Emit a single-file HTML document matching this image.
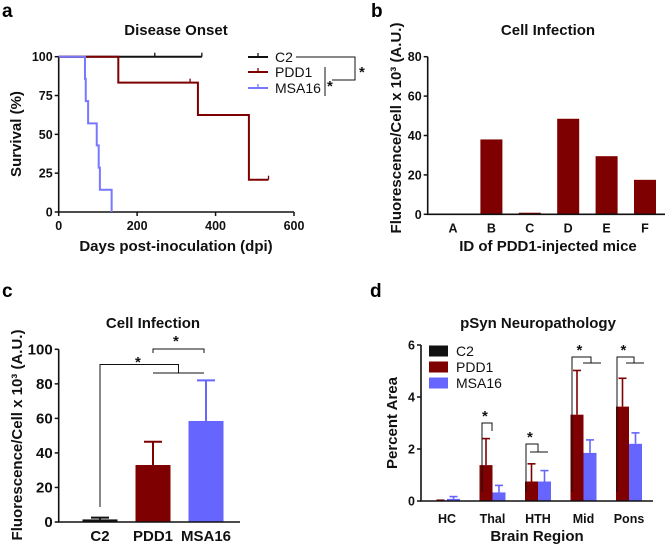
<!DOCTYPE html>
<html><head><meta charset="utf-8">
<style>
html,body{margin:0;padding:0;background:#fff;}
svg{display:block;font-family:"Liberation Sans",Arial,sans-serif;}
.t{font-weight:bold;font-size:12.5px;fill:#111;}
.ti{font-weight:bold;font-size:15px;fill:#111;}
.lab{font-weight:bold;font-size:19px;fill:#000;}
.ax{stroke:#111;stroke-width:1.6;fill:none;}
</style></head>
<body>
<svg id="fig" width="669" height="545" viewBox="0 0 669 545" xmlns="http://www.w3.org/2000/svg">
<g id="pa"></g>
<g id="pb"></g>
<g id="pc"></g>
<g id="pd"></g>
</svg>
<script>
// Panel a data
const aTicksX=[0,200,400,600];
const aTicksY=[0,25,50,75,100];
const c2Times=[0,365];const c2Surv=[100,100];const c2Cens=[245,365];
const pddTimes=[0,152,355,485,535];const pddSurv=[100,83.3,62.5,20.8,20.8];const pddCens=[335,535];
const msaTimes=[0,67,69,75,97,102,105,135];const msaSurv=[100,85.7,71.4,57.1,42.9,28.6,14.3,0];
// Panel b data
const bCats=["A","B","C","D","E","F"];
const bVals=[0.3,38,0.8,48.5,29.5,17.5];
const bTicks=[0,20,40,60,80];
// Panel c data
const cCats=["C2","PDD1","MSA16"];
const cVals=[1.5,33,58.5];
const cErr=[2.5,46.5,82];
const cTicks=[0,20,40,60,80,100];
// Panel d data
const dCats=["HC","Thal","HTH","Mid","Pons"];
const dC2=[0,0,0,0,0];
const dPDD=[0.02,1.38,0.75,3.32,3.63];
const dPDDerr=[0.03,2.4,1.43,5.02,4.72];
const dMSA=[0.08,0.33,0.75,1.85,2.2];
const dMSAerr=[0.17,0.6,1.17,2.35,2.62];
const dTicks=[0,2,4,6];

const NS="http://www.w3.org/2000/svg";
function mk(p,tag,at,txt){const e=document.createElementNS(NS,tag);for(const k in at)e.setAttribute(k,at[k]);if(txt!=null)e.textContent=txt;p.appendChild(e);return e;}
const RED="#7f0000",BLUE="#6666ff";

// ---------- Panel A ----------
(function(){
const g=document.getElementById('pa');
const x=v=>58.7+v*(294-58.7)/600, y=v=>212-v*(212-56.7)/100;
let e=mk(g,'text',{x:2,y:17,class:'lab'},'a');


e=mk(g,'text',{x:176,y:35,class:'ti','text-anchor':'middle'},'Disease Onset');


mk(g,'path',{d:`M${x(0)} ${y(100)}V${y(0)}H${x(600)}`,class:'ax'});
aTicksX.forEach(v=>{mk(g,'line',{x1:x(v),x2:x(v),y1:y(0),y2:y(0)+4,stroke:'#111','stroke-width':1.5});
 const t=mk(g,'text',{x:x(v),y:y(0)+18,class:'t','text-anchor':'middle'},v);
 
 });
aTicksY.forEach(v=>{mk(g,'line',{x1:x(0)-4,x2:x(0),y1:y(v),y2:y(v),stroke:'#111','stroke-width':1.5});
 const t=mk(g,'text',{x:x(0)-6,y:y(v)+4.5,class:'t','text-anchor':'end'},v);
 
 });
e=mk(g,'text',{x:176,y:251,class:'ti','text-anchor':'middle','font-size':'14.5'},'Days post-inoculation (dpi)');


e=mk(g,'text',{x:0,y:0,class:'ti',transform:`translate(21,134) rotate(-90)`,'text-anchor':'middle','font-size':'14.5'},'Survival (%)');


function step(T,S,col,cens,name){
 let d=`M${x(T[0])} ${y(S[0])}`;
 for(let i=1;i<T.length;i++){d+=`H${x(T[i])}V${y(S[i])}`;}
 const p=mk(g,'path',{d,stroke:col,'stroke-width':2,fill:'none'});
 
 
 cens.forEach(c=>{let s=S[0];for(let i=0;i<T.length;i++)if(T[i]<=c)s=S[i];
  mk(g,'line',{x1:x(c),x2:x(c),y1:y(s)-4,y2:y(s),stroke:col,'stroke-width':1.3});});
}
step(c2Times,c2Surv,'#111',c2Cens,'c2-curve');
step(pddTimes,pddSurv,RED,pddCens,'pdd1-curve');
step(msaTimes,msaSurv,'#7777ff',[],'msa16-curve');
[['C2','#111',57],['PDD1',RED,72],['MSA16','#7777ff',88]].forEach(([n,c,yy])=>{
 mk(g,'line',{x1:248,x2:268,y1:yy,y2:yy,stroke:c,'stroke-width':2});
 mk(g,'line',{x1:258,x2:258,y1:yy-4,y2:yy,stroke:c,'stroke-width':1.3});
 const t=mk(g,'text',{x:275,y:yy+5,'font-size':'14',fill:'#111'},n);
 
 });
mk(g,'path',{d:'M296 57H355V80H332',stroke:'#111','stroke-width':1,fill:'none'});
mk(g,'line',{x1:325,x2:325,y1:67,y2:96,stroke:'#111','stroke-width':1});
mk(g,'text',{x:327,y:91,class:'ti','font-size':'16'},'*');
mk(g,'text',{x:359,y:77,class:'ti','font-size':'16'},'*');
})();

// ---------- Panel B ----------
(function(){
const g=document.getElementById('pb');
const x0=427.7,x1=665,cx=i=>453+i*38.4,y=v=>214.3-v*(214.3-56.7)/80;
let e=mk(g,'text',{x:371,y:17,class:'lab'},'b');


e=mk(g,'text',{x:548,y:35,class:'ti','text-anchor':'middle'},'Cell Infection');


bCats.forEach((c,i)=>{
 const r=mk(g,'rect',{x:cx(i)-11,y:y(bVals[i]),width:22,height:y(0)-y(bVals[i]),fill:RED});
 
 
 const t=mk(g,'text',{x:cx(i),y:y(0)+18,class:'t','text-anchor':'middle'},c);
 
 });
mk(g,'path',{d:`M${x0} ${y(80)}V${y(0)}H${x1}`,class:'ax'});
bTicks.forEach(v=>{mk(g,'line',{x1:x0-4,x2:x0,y1:y(v),y2:y(v),stroke:'#111','stroke-width':1.5});
 const t=mk(g,'text',{x:x0-6,y:y(v)+4.5,class:'t','text-anchor':'end'},v);
 
 });
e=mk(g,'text',{x:548,y:251,class:'ti','text-anchor':'middle','font-size':'14.5'},'ID of PDD1-injected mice');


e=mk(g,'text',{x:0,y:0,class:'ti',transform:'translate(401,128) rotate(-90)','text-anchor':'middle','font-size':'12'},'Fluorescence/Cell x 10³ (A.U.)');


})();

// ---------- Panel C ----------
(function(){
const g=document.getElementById('pc');
const x0=58.7,x1=240,cx=i=>100+i*53,y=v=>522-v*(522-349.3)/100;
const cols=['#111',RED,BLUE];
let e=mk(g,'text',{x:2,y:297,class:'lab'},'c');


e=mk(g,'text',{x:153,y:328,class:'ti','text-anchor':'middle','font-size':'16'},'Cell Infection');


cCats.forEach((c,i)=>{
 mk(g,'line',{x1:cx(i),x2:cx(i),y1:y(cErr[i]),y2:y(cVals[i]),stroke:cols[i],'stroke-width':2});
 mk(g,'line',{x1:cx(i)-9,x2:cx(i)+9,y1:y(cErr[i]),y2:y(cErr[i]),stroke:cols[i],'stroke-width':2});
 const r=mk(g,'rect',{x:cx(i)-17.5,y:y(cVals[i]),width:35,height:y(0)-y(cVals[i]),fill:cols[i]});
 
 
 const t=mk(g,'text',{x:cx(i),y:541,class:'ti','text-anchor':'middle','font-size':'14.5'},c);
 
 });
mk(g,'path',{d:`M${x0} ${y(100)}V${y(0)}H${x1}`,class:'ax'});
cTicks.forEach(v=>{mk(g,'line',{x1:x0-4,x2:x0,y1:y(v),y2:y(v),stroke:'#111','stroke-width':1.5});
 const t=mk(g,'text',{x:x0-6,y:y(v)+5,class:'ti','text-anchor':'end','font-size':'14.5'},v);
 
 });
mk(g,'path',{d:`M100 507V364.5H178.5V373`,stroke:'#111','stroke-width':1,fill:'none'});
mk(g,'line',{x1:153,x2:204,y1:373,y2:373,stroke:'#111','stroke-width':1});
mk(g,'path',{d:'M153 353V349H204V353',stroke:'#111','stroke-width':1,fill:'none'});
mk(g,'text',{x:135,y:367,class:'ti','font-size':'17'},'*');
mk(g,'text',{x:173,y:346,class:'ti','font-size':'17'},'*');
e=mk(g,'text',{x:0,y:0,class:'ti',transform:'translate(22,435) rotate(-90)','text-anchor':'middle','font-size':'13'},'Fluorescence/Cell x 10³ (A.U.)');


})();

// ---------- Panel D ----------
(function(){
const g=document.getElementById('pd');
const x0=421,x1=653,cx=i=>447+i*45.5,y=v=>501-v*(501-345)/6,bw=13;
let e=mk(g,'text',{x:370,y:297,class:'lab'},'d');


e=mk(g,'text',{x:538,y:328,class:'ti','text-anchor':'middle'},'pSyn Neuropathology');


dCats.forEach((c,i)=>{
 [[dPDD,dPDDerr,RED,-bw/2,'pdd1'],[dMSA,dMSAerr,BLUE,bw/2,'msa16']].forEach(([v,er,col,off,n])=>{
  const xc=cx(i)+off;
  mk(g,'line',{x1:xc,x2:xc,y1:y(er[i]),y2:y(v[i]),stroke:col,'stroke-width':1.6});
  mk(g,'line',{x1:xc-4,x2:xc+4,y1:y(er[i]),y2:y(er[i]),stroke:col,'stroke-width':1.6});
  const r=mk(g,'rect',{x:xc-bw/2,y:y(v[i]),width:bw,height:Math.max(0.8,y(0)-y(v[i])),fill:col});
  
  
 });
 const t=mk(g,'text',{x:cx(i),y:523,class:'t','text-anchor':'middle'},c);
 
 });
mk(g,'path',{d:`M${x0} ${y(6)}V${y(0)}H${x1}`,class:'ax'});
dTicks.forEach(v=>{mk(g,'line',{x1:x0-4,x2:x0,y1:y(v),y2:y(v),stroke:'#111','stroke-width':1.5});
 const t=mk(g,'text',{x:x0-6,y:y(v)+4.5,class:'t','text-anchor':'end'},v);
 
 });
[['C2','#111',351],['PDD1',RED,367],['MSA16',BLUE,383]].forEach(([n,c,yy])=>{
 mk(g,'rect',{x:429,y:yy-5.5,width:19,height:11,fill:c});
 const t=mk(g,'text',{x:456,y:yy+5,'font-size':'14',fill:'#111'},n);
 
 });
mk(g,'path',{d:'M482 492V423H492V431',stroke:'#111','stroke-width':1,fill:'none'});
mk(g,'text',{x:482,y:421,class:'ti','font-size':'16'},'*');
[[1,526,444,538,452],[3,572,357,591,363],[4,617,357,634,363]].forEach(([i,xa,yt,xb,yb])=>{
 mk(g,'path',{d:`M${xa} 492V${yt}H${xb}V${yb}`,stroke:'#111','stroke-width':1,fill:'none'});
 mk(g,'line',{x1:xb-8,x2:xb+10,y1:yb,y2:yb,stroke:'#111','stroke-width':1});
 mk(g,'text',{x:xa+(xb-xa)/2-5,y:yt-2,class:'ti','font-size':'16'},'*');
});
e=mk(g,'text',{x:537,y:541,class:'ti','text-anchor':'middle','font-size':'14.5'},'Brain Region');


e=mk(g,'text',{x:0,y:0,class:'ti',transform:'translate(397,423) rotate(-90)','text-anchor':'middle','font-size':'14.5'},'Percent Area');


})();
</script>
</body></html>
